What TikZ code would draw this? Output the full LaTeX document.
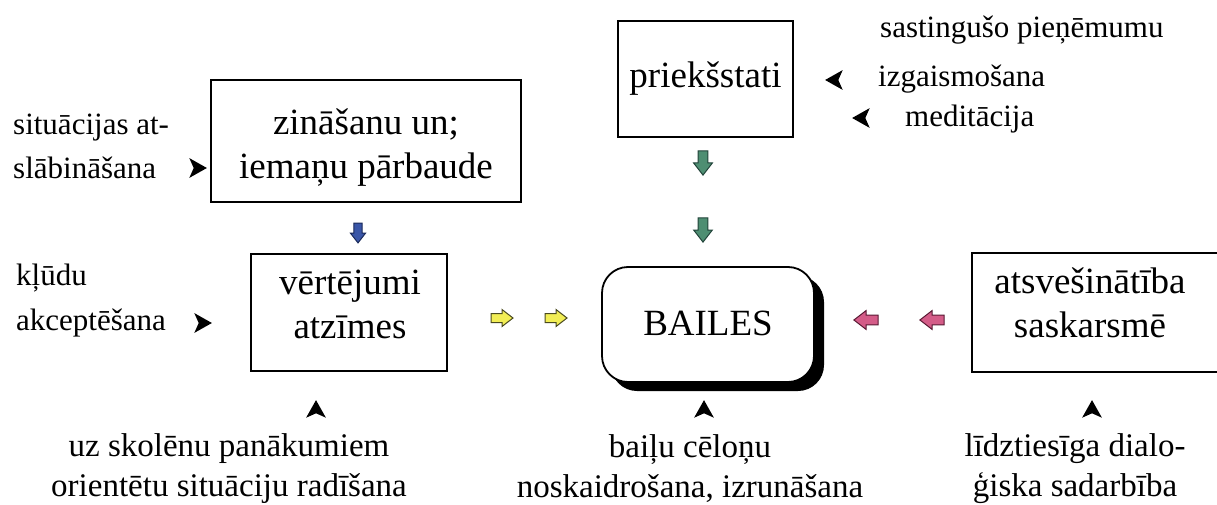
\documentclass[tikz,border=0pt]{standalone}
\usepackage{fontspec}
\setmainfont{Liberation Serif}
\definecolor{ylw}{HTML}{F2EE55}
\definecolor{ylwd}{HTML}{4A4A20}
\definecolor{pnk}{HTML}{D45C88}
\definecolor{pnkd}{HTML}{5A1A34}
\definecolor{grn}{HTML}{4E8E72}
\definecolor{grnd}{HTML}{22443A}
\definecolor{blu}{HTML}{3A56A8}
\definecolor{blud}{HTML}{1A2A5A}
\begin{document}
\begin{tikzpicture}[x=1pt,y=-1pt,
  box/.style={draw, line width=1.8pt, inner sep=0pt},
  boxtext/.style={font=\fontsize{37}{44}\selectfont, align=center, inner sep=0pt},
  lbl/.style={font=\fontsize{31}{37}\selectfont, inner sep=0pt, anchor=west},
  btm/.style={font=\fontsize{33}{40}\selectfont, align=center, inner sep=0pt},
  chev/.pic={\fill[scale=1.1] (-7,-9) -- (9,0) -- (-7,9) -- (-3,0) -- cycle;},
  barrow/.pic={\path[pic actions, line width=1pt, line join=miter] (-11,-4.5) -- (0,-4.5) -- (0,-8.5) -- (11,0) -- (0,8.5) -- (0,4.5) -- (-11,4.5) -- cycle;}
]
\useasboundingbox (0,0) rectangle (1217,505);
\fill[white] (0,0) rectangle (1217,505);

% boxes
\node[box, minimum width=175pt, minimum height=116pt] (prs) at (705.5,79) {};
\node[boxtext] (prst) at (705.5,79) {priekšstati};
\node[box, minimum width=310pt, minimum height=122pt] (zin) at (366,141) {};
\node[boxtext] (zint) at (366,148) {zināšanu un;\\iemaņu pārbaude};
\node[box, minimum width=196pt, minimum height=117pt] (ver) at (349,312.5) {};
\node[boxtext] (vert) at (350,304) {vērtējumi\\atzīmes};
\node[box, minimum width=253pt, minimum height=119pt] (ats) at (1098.5,312.5) {};
\node[boxtext] (atst) at (1090,303) {atsvešinātība\\saskarsmē};
\fill[black, rounded corners=26pt] (611,276) rectangle (824,391);
\node[box, fill=white, rounded corners=26pt, minimum width=212pt, minimum height=115pt] (bai) at (708,324.5) {};
\node[boxtext] (bait) at (708,323) {BAILES};

% block arrows
\pic[fill=blu, draw=blud, rotate=-90, scale=0.9] at (358,233) {barrow};
\pic[fill=grn, draw=grnd, rotate=-90, scale=1.1] at (703,163) {barrow};
\pic[fill=grn, draw=grnd, rotate=-90, scale=1.1] at (703,230) {barrow};
\pic[fill=ylw, draw=ylwd] at (502,318) {barrow};
\pic[fill=ylw, draw=ylwd] at (556,318) {barrow};
\pic[fill=pnk, draw=pnkd, rotate=180, scale=1.1] at (866,320) {barrow};
\pic[fill=pnk, draw=pnkd, rotate=180, scale=1.1] at (932,320) {barrow};

% side labels
\node[lbl] (l1) at (880,30) {sastingušo pieņēmumu};
\node[lbl] (l2) at (878,79) {izgaismošana};
\node[lbl] (l3) at (905,119) {meditācija};
\node[lbl] (l4) at (13,128) {situācijas at-};
\node[lbl] (l5) at (13,168) {slābināšana};
\node[lbl] (l6) at (16,278) {kļūdu};
\node[lbl] (l7) at (16,323) {akceptēšana};

% chevrons
\pic[rotate=180] at (835,80) {chev};
\pic[rotate=180] at (862,118) {chev};
\pic at (197,168) {chev};
\pic at (202,323) {chev};
\pic[rotate=90] at (316,410) {chev};
\pic[rotate=90] at (704,410) {chev};
\pic[rotate=90] at (1092,410) {chev};

% bottom labels
\node[btm] (b1) at (229,469) {uz skolēnu panākumiem\\orientētu situāciju radīšana};
\node[btm] (b2) at (690,469) {baiļu cēloņu\\noskaidrošana, izrunāšana};
\node[btm] (b3) at (1075,469) {līdztiesīga dialo-\\ģiska sadarbība};
\end{tikzpicture}
\end{document}
